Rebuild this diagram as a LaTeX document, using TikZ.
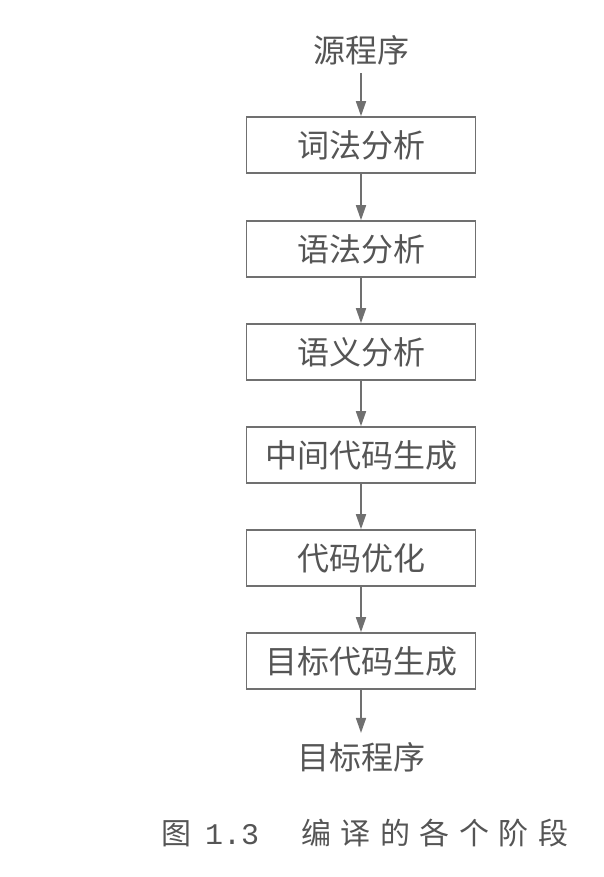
\documentclass[tikz,border=0pt]{standalone}
\usepackage{fontspec}
\newfontfamily\cjk{Noto Sans CJK SC}
\newfontfamily\numfont{Liberation Mono}
\usetikzlibrary{arrows.meta}
\definecolor{ink}{HTML}{555555}
\definecolor{linec}{HTML}{707070}
\begin{document}
\begin{tikzpicture}[x=1pt,y=-1pt,
  stagebox/.style={draw=linec,line width=1.6pt,minimum width=229pt,minimum height=56pt,inner sep=0pt,text=ink,font=\cjk\fontsize{32}{36}\selectfont},
  plain/.style={text=ink,inner sep=0pt,font=\cjk\fontsize{32}{36}\selectfont},
  flow/.style={draw=linec,line width=1.6pt,-{Triangle[length=15pt,width=10pt]}}]
\useasboundingbox (0,0) rectangle (603,877);
\node[plain] (src) at (361,50) {源程序};
\node[stagebox] (b1) at (361,145) {词法分析};
\node[stagebox] (b2) at (361,249) {语法分析};
\node[stagebox] (b3) at (361,352) {语义分析};
\node[stagebox] (b4) at (361,455) {中间代码生成};
\node[stagebox] (b5) at (361,558) {代码优化};
\node[stagebox] (b6) at (361,661) {目标代码生成};
\node[plain] (dst) at (361,757) {目标程序};
\draw[flow] (src.south) ++(0,8) coordinate (s0) -- (b1.north);
\draw[flow] (b1) -- (b2);
\draw[flow] (b2) -- (b3);
\draw[flow] (b3) -- (b4);
\draw[flow] (b4) -- (b5);
\draw[flow] (b5) -- (b6);
\draw[flow] (b6.south) -- ([yshift=9pt]dst.north);
\node[text=ink,inner sep=0pt,anchor=west,font=\cjk\fontsize{30}{34}\selectfont] (cap) at (161,833)
  {图\hspace{14pt}{\numfont 1.3}\hspace{42pt}编\hspace{9.5pt}译\hspace{9.5pt}的\hspace{9.5pt}各\hspace{9.5pt}个\hspace{9.5pt}阶\hspace{9.5pt}段};
\end{tikzpicture}
\end{document}
